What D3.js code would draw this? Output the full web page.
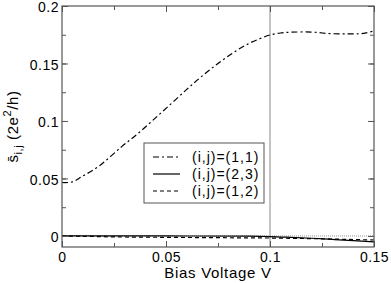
<!DOCTYPE html>
<html><head><meta charset="utf-8">
<script src="https://cdn.jsdelivr.net/npm/d3@7"></script>
<style>body{margin:0;background:#fff}svg{display:block}text{font-family:"Liberation Sans",Arial,sans-serif}</style>
</head><body><svg id="c" width="391" height="283"></svg>
<script>
const s11X = [0,0.005,0.0095,0.0175,0.0287,0.0367,0.0447,0.0527,0.06,0.065,0.07,0.075,0.08,0.085,0.09,0.095,0.1,0.105,0.11,0.12,0.1288,0.138,0.1449,0.15];
const s11Y = [0.0465,0.047,0.0516,0.0603,0.0777,0.0893,0.1023,0.1154,0.1275,0.1355,0.143,0.150,0.1565,0.1625,0.1675,0.1715,0.1748,0.1765,0.1772,0.1773,0.176,0.1757,0.1762,0.1783];
const s23X = [0,0.05,0.09,0.1,0.11,0.12,0.13,0.14,0.15];
const s23Y = [0,0,-0.0002,-0.0005,-0.0012,-0.002,-0.003,-0.004,-0.0052];
const s12X = [0,0.01,0.025,0.05,0.075,0.1,0.125,0.15];
const s12Y = [0,-0.0003,-0.0008,-0.0012,-0.0015,-0.0018,-0.0025,-0.0035];
const xTicks = [0,0.05,0.1,0.15];
const yTicks = [0,0.05,0.1,0.15,0.2];
const legendLabels = ["(i,j)=(1,1)","(i,j)=(2,3)","(i,j)=(1,2)"];

const svg = d3.select("#c");
const m = {l:62,t:6,r:17,b:36};
const W = 391-m.l-m.r, H = 283-m.t-m.b;
const x = d3.scaleLinear().domain([0,0.15]).range([m.l,m.l+W]);
const y = d3.scaleLinear().domain([-0.0096,0.2]).range([m.t+H,m.t]);
const g = svg.append("g");

// reference lines
g.append("line").attr("x1",x(0.1)).attr("x2",x(0.1)).attr("y1",y(0.2)).attr("y2",y(-0.0096)).attr("stroke","#888").attr("stroke-width",1);
g.append("line").attr("x1",x(0)).attr("x2",x(0.15)).attr("y1",y(0)).attr("y2",y(0)).attr("stroke","#999").attr("stroke-width",1).attr("stroke-dasharray","1,1");

const line = d3.line().x(d=>x(d[0])).y(d=>y(d[1])).curve(d3.curveCatmullRom.alpha(0.5));
const series = [
  {xs:s11X, ys:s11Y, dash:"6,3,2,3"},
  {xs:s23X, ys:s23Y, dash:null},
  {xs:s12X, ys:s12Y, dash:"4,3"}
];
series.forEach(s=>{
  g.append("path").datum(s.xs.map((v,i)=>[v,s.ys[i]]))
   .attr("d",line).attr("fill","none").attr("stroke","#000").attr("stroke-width",1.2)
   .attr("stroke-dasharray",s.dash);
});

// axes
const frame = "#555";
const minorX = d3.range(0,0.1501,0.025), minorY = d3.range(0,0.2001,0.025);
function axis(gen, tf, major, minor, fmt, showLabels){
  const a = svg.append("g").attr("transform",tf);
  a.call(gen.tickValues(minor).tickSize(4).tickFormat(""));
  const b = svg.append("g").attr("transform",tf);
  b.call(gen.tickValues(major).tickSizeInner(6).tickSizeOuter(0).tickPadding(-3).tickFormat(showLabels?fmt:""));
  [a,b].forEach(z=>{z.selectAll("path").attr("stroke",frame);z.selectAll("line").attr("stroke",frame);});
  return b;
}
const fx = d=> d===0?"0":String(d);
const bx = axis(d3.axisTop(x), `translate(0,${m.t+H})`, xTicks, minorX, fx, true);
bx.selectAll("text").attr("y",15).attr("dy","0").attr("font-size",14).attr("letter-spacing",0.5).attr("fill","#000");
axis(d3.axisBottom(x), `translate(0,${m.t})`, xTicks, minorX, fx, false);
const by = axis(d3.axisRight(y), `translate(${m.l},0)`, yTicks, minorY, fx, true);
by.selectAll("text").attr("x",-3).attr("text-anchor","end").attr("font-size",14).attr("letter-spacing",0.5).attr("fill","#000").attr("dy","0.42em");
axis(d3.axisLeft(y), `translate(${m.l+W},0)`, yTicks, minorY, fx, false);
svg.selectAll(".domain").remove();
svg.append("rect").attr("x",m.l).attr("y",m.t).attr("width",W).attr("height",H).attr("fill","none").attr("stroke",frame).attr("stroke-width",1.2);

// axis labels
svg.append("text").attr("x",m.l+W/2).attr("y",278).attr("text-anchor","middle").attr("font-size",15).attr("letter-spacing",0.7).text("Bias Voltage V");
const yl = svg.append("text").attr("transform",`translate(18,${m.t+H/2}) rotate(-90)`).attr("text-anchor","middle").attr("font-size",15).attr("letter-spacing",0.6);
yl.append("tspan").text("s\u0304");
yl.append("tspan").attr("font-size",11).attr("dy",4).text("i,j");
yl.append("tspan").attr("dy",-4).text(" (2e");
yl.append("tspan").attr("font-size",11).attr("dy",-7).text("2");
yl.append("tspan").attr("dy",7).text("/h)");

// legend
const lg = svg.append("g");
lg.append("rect").attr("x",144).attr("y",143).attr("width",120).attr("height",60).attr("fill","#fff").attr("stroke",frame).attr("stroke-width",1);
legendLabels.forEach((t,i)=>{
  const yy = 157+i*17;
  lg.append("line").attr("x1",153).attr("x2",180).attr("y1",yy).attr("y2",yy).attr("stroke","#000").attr("stroke-width",1.2).attr("stroke-dasharray",series[i].dash);
  lg.append("text").attr("x",192).attr("y",yy).attr("dy","0.35em").attr("font-size",14).attr("letter-spacing",1).text(t);
});
</script></body></html>
